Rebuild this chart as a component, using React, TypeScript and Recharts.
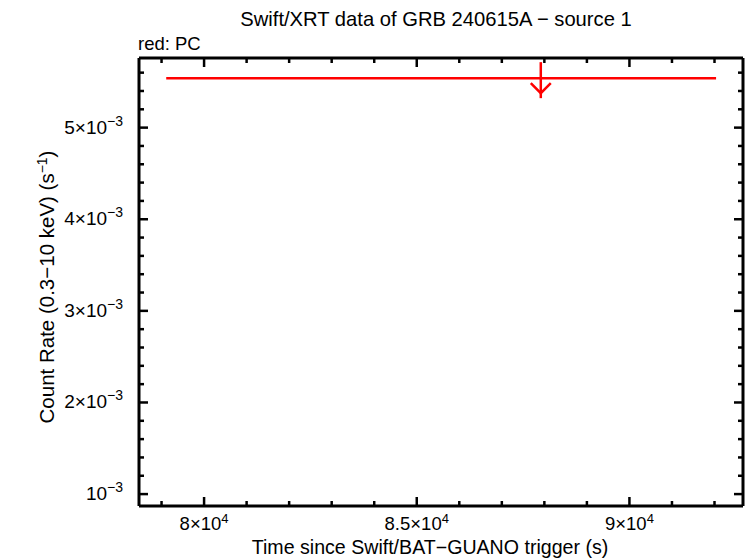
import { ComposedChart, Scatter, XAxis, YAxis, ErrorBar } from "recharts";

// axis ranges
const xDomain = [78470, 92670];
const yDomain = [0.00087, 0.00576];

const xMajor = [80000, 85000, 90000];
const xTicks = [
  79000, 80000, 81000, 82000, 83000, 84000, 85000, 86000, 87000, 88000, 89000,
  90000, 91000, 92000,
];
const yMajor = [0.001, 0.002, 0.003, 0.004, 0.005];
const yTicks = [
  0.001, 0.0012, 0.0014, 0.0016, 0.0018, 0.002, 0.0022, 0.0024, 0.0026, 0.0028,
  0.003, 0.0032, 0.0034, 0.0036, 0.0038, 0.004, 0.0042, 0.0044, 0.0046, 0.0048,
  0.005, 0.0052, 0.0054, 0.0056,
];

// PC upper limit: time, rate, time error (minus, plus)
const pcTime = [87916];
const pcRate = [0.00554];
const pcTerr = [[8806, 4121]];

const pcData = pcTime.map((t, i) => ({ t, rate: pcRate[i], terr: pcTerr[i] }));

const FONT = "'Liberation Sans', Arial, Helvetica, sans-serif";
const RED = "#ff0000";

const isMajorY = (v: number) => yMajor.some((m) => Math.abs(m - v) < 1e-9);

const BottomTick = (props: any) => {
  const { x, y, payload } = props;
  const v = payload.value;
  const major = xMajor.includes(v);
  const len = major ? 9 : 5;
  const mant = v / 10000;
  return (
    <g>
      <line x1={x} x2={x} y1={y} y2={y - len} stroke="#000" strokeWidth={2.5} />
      {major && (
        <text x={x} y={y + 24} textAnchor="middle" fontFamily={FONT} fontSize={18.5} fill="#000">
          {mant}×10
          <tspan fontSize={13} dy={-7}>4</tspan>
        </text>
      )}
    </g>
  );
};

const TopTick = (props: any) => {
  const { x, y, payload } = props;
  const len = xMajor.includes(payload.value) ? 9 : 5;
  return <line x1={x} x2={x} y1={y} y2={y + len} stroke="#000" strokeWidth={2.5} />;
};

const LeftTick = (props: any) => {
  const { x, y, payload } = props;
  const v = payload.value;
  const major = isMajorY(v);
  const len = major ? 9 : 5;
  const m = Math.round(v * 1000);
  return (
    <g>
      <line x1={x} x2={x + len} y1={y} y2={y} stroke="#000" strokeWidth={2.5} />
      {major && (
        <text x={x - 16} y={y + 6} textAnchor="end" fontFamily={FONT} fontSize={19} fill="#000">
          {m === 1 ? "10" : `${m}×10`}
          <tspan fontSize={14} dy={-8}>−3</tspan>
        </text>
      )}
    </g>
  );
};

const RightTick = (props: any) => {
  const { x, y, payload } = props;
  const len = isMajorY(payload.value) ? 9 : 5;
  return <line x1={x} x2={x - len} y1={y} y2={y} stroke="#000" strokeWidth={2.5} />;
};

const UpperLimit = (props: any) => {
  const { cx, cy } = props;
  return (
    <g stroke={RED} strokeWidth={2.5} fill="none">
      <line x1={cx} x2={cx} y1={cy - 16} y2={cy + 20} />
      <polyline points={`${cx - 10},${cy + 5} ${cx},${cy + 15} ${cx + 10},${cy + 5}`} />
    </g>
  );
};

const axisLine = { stroke: "#000", strokeWidth: 3 };

export default function App() {
  return (
    <div style={{ position: "absolute", left: 0, top: 0, width: 746, height: 558, background: "#fff" }}>
      <ComposedChart width={746} height={558} data={pcData} margin={{ top: 0, right: 0, bottom: 0, left: 0 }}>
        <XAxis
          xAxisId="b"
          dataKey="t"
          type="number"
          orientation="bottom"
          domain={xDomain}
          allowDataOverflow
          ticks={xTicks}
          interval={0}
          height={52}
          tickSize={0}
          tickMargin={0}
          tickLine={false}
          axisLine={axisLine}
          tick={<BottomTick />}
        />
        <XAxis
          xAxisId="t"
          dataKey="t"
          type="number"
          orientation="top"
          domain={xDomain}
          allowDataOverflow
          ticks={xTicks}
          interval={0}
          height={58}
          tickSize={0}
          tickMargin={0}
          tickLine={false}
          axisLine={axisLine}
          tick={<TopTick />}
        />
        <YAxis
          yAxisId="l"
          dataKey="rate"
          type="number"
          orientation="left"
          domain={yDomain}
          allowDataOverflow
          ticks={yTicks}
          interval={0}
          width={139}
          tickSize={0}
          tickMargin={0}
          tickLine={false}
          axisLine={axisLine}
          tick={<LeftTick />}
        />
        <YAxis
          yAxisId="r"
          dataKey="rate"
          type="number"
          orientation="right"
          domain={yDomain}
          allowDataOverflow
          ticks={yTicks}
          interval={0}
          width={3}
          tickSize={0}
          tickMargin={0}
          tickLine={false}
          axisLine={axisLine}
          tick={<RightTick />}
        />
        <Scatter xAxisId="b" yAxisId="l" dataKey="rate" shape={<UpperLimit />} isAnimationActive={false}>
          <ErrorBar dataKey="terr" direction="x" width={0} stroke={RED} strokeWidth={2.5} />
        </Scatter>
      </ComposedChart>
      <svg
        width={746}
        height={558}
        style={{ position: "absolute", left: 0, top: 0, pointerEvents: "none" }}
        fontFamily={FONT}
        fill="#000"
      >
        <text x={436} y={26} textAnchor="middle" fontSize={20.2}>
          Swift/XRT data of GRB 240615A − source 1
        </text>
        <text x={138} y={50} fontSize={18.5}>
          red: PC
        </text>
        <text x={430} y={554} textAnchor="middle" fontSize={19.6}>
          Time since Swift/BAT−GUANO trigger (s)
        </text>
        <text x={54} y={287} textAnchor="middle" fontSize={20.5} transform="rotate(-90 54 287)">
          Count Rate (0.3−10 keV) (s
          <tspan fontSize={14} dy={-7}>−1</tspan>
          <tspan dy={7}>)</tspan>
        </text>
      </svg>
    </div>
  );
}
